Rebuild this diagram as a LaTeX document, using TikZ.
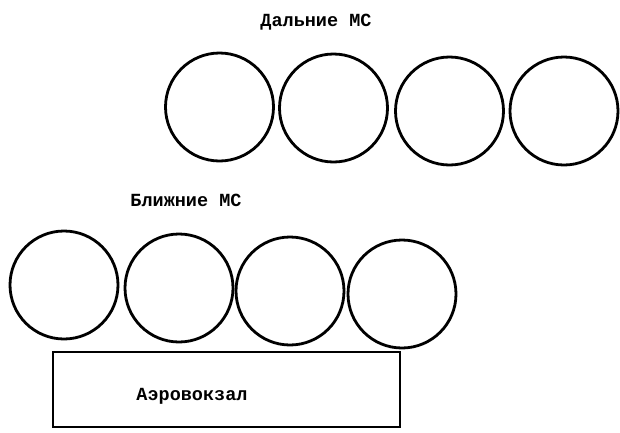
\documentclass[tikz,border=0pt]{standalone}
\usepackage{fontspec}
\setmainfont{Liberation Mono}
\begin{document}
\begin{tikzpicture}[x=1pt,y=-1pt,
  stand/.style={circle,draw,line width=2.8pt,inner sep=0pt,minimum size=108pt},
  lbl/.style={font=\bfseries\fontsize{18.5}{22}\selectfont},
  terminal/.style={draw,line width=2.4pt,inner sep=0pt}]
\useasboundingbox (0,0) rectangle (620,432);
\node[lbl] (farlbl) at (316,22) {Дальние МС};
\node[stand] (f1) at (219.5,107) {};
\node[stand] (f2) at (333.5,108) {};
\node[stand] (f3) at (449.5,111) {};
\node[stand] (f4) at (564,111) {};
\node[lbl] (nearlbl) at (186,200) {Ближние МС};
\node[stand] (n1) at (64,285) {};
\node[stand] (n2) at (179,288) {};
\node[stand] (n3) at (290,291) {};
\node[stand] (n4) at (402,294) {};
\node[terminal,minimum width=347pt,minimum height=75pt] (term) at (226.5,389.5) {};
\node[lbl] (termlbl) at (192,396) {Аэровокзал};
\end{tikzpicture}
\end{document}
